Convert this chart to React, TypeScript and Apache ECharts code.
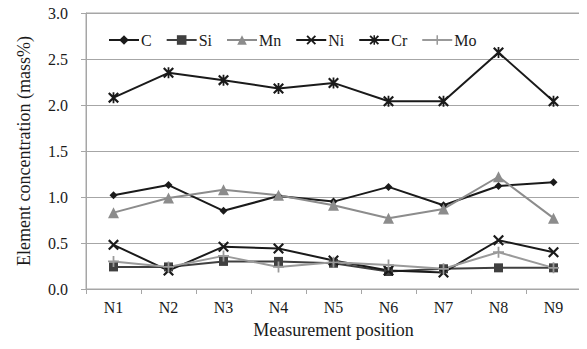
import React, { useEffect, useRef } from "react";
import * as echarts from "echarts";

const categories = ["N1", "N2", "N3", "N4", "N5", "N6", "N7", "N8", "N9"];
const seriesNames = ["C", "Si", "Mn", "Ni", "Cr", "Mo"];
const cValues = [1.02, 1.13, 0.85, 1.01, 0.95, 1.11, 0.91, 1.12, 1.16];
const siValues = [0.24, 0.24, 0.3, 0.3, 0.28, 0.19, 0.22, 0.23, 0.23];
const mnValues = [0.83, 0.99, 1.08, 1.02, 0.91, 0.77, 0.87, 1.22, 0.77];
const niValues = [0.48, 0.2, 0.46, 0.44, 0.31, 0.2, 0.18, 0.53, 0.4];
const crValues = [2.08, 2.35, 2.27, 2.18, 2.24, 2.04, 2.04, 2.57, 2.04];
const moValues = [0.3, 0.24, 0.36, 0.24, 0.29, 0.26, 0.22, 0.4, 0.23];
const yTicks = [0, 0.5, 1.0, 1.5, 2.0, 2.5, 3.0];

const X_PATH =
  "path://M0,1.4L1.4,0L5,3.6L8.6,0L10,1.4L6.4,5L10,8.6L8.6,10L5,6.4L1.4,10L0,8.6L3.6,5Z";
const AST_PATH =
  "path://M0,1.4L1.4,0L5,3.6L8.6,0L10,1.4L6.4,5L10,8.6L8.6,10L5,6.4L1.4,10L0,8.6L3.6,5Z M4.2,0L5.8,0L5.8,10L4.2,10Z";
const PLUS_PATH =
  "path://M4.2,0L5.8,0L5.8,4.2L10,4.2L10,5.8L5.8,5.8L5.8,10L4.2,10L4.2,5.8L0,5.8L0,4.2L4.2,4.2Z";

const FONT = "'Liberation Serif', 'DejaVu Serif', serif";

export default function App() {
  const ref = useRef<HTMLDivElement>(null);
  useEffect(() => {
    if (!ref.current) return;
    const chart = echarts.init(ref.current, undefined, { renderer: "svg" });
    const values = [cValues, siValues, mnValues, niValues, crValues, moValues];
    const colors = ["#1a1a1a", "#404040", "#8c8c8c", "#1a1a1a", "#1a1a1a", "#9a9a9a"];
    const symbols = ["diamond", "rect", "triangle", X_PATH, AST_PATH, PLUS_PATH];
    const sizes = [8, 9, 11, 11, 11, 11];
    chart.setOption({
      animation: false,
      textStyle: { fontFamily: FONT },
      grid: {
        left: 86,
        right: 6,
        top: 13,
        bottom: 60,
        show: true,
        borderColor: "#a6a6a6",
        borderWidth: 1,
      },
      legend: {
        top: 27,
        left: 103,
        itemWidth: 30,
        itemHeight: 12,
        itemGap: 14,
        data: seriesNames,
        textStyle: { fontFamily: FONT, fontSize: 16, color: "#1a1a1a", padding: [0, 0, 0, -3] },
      },
      xAxis: {
        type: "category",
        data: categories,
        boundaryGap: true,
        name: "Measurement position",
        nameLocation: "middle",
        nameGap: 32,
        nameTextStyle: { fontFamily: FONT, fontSize: 18, color: "#1a1a1a" },
        axisLine: { lineStyle: { color: "#a6a6a6", width: 1 } },
        axisTick: { show: true, length: 5, lineStyle: { color: "#a6a6a6" } },
        axisLabel: { fontFamily: FONT, fontSize: 16, color: "#1a1a1a", margin: 10 },
        splitLine: { show: false },
      },
      yAxis: {
        type: "value",
        min: yTicks[0],
        max: yTicks[yTicks.length - 1],
        interval: 0.5,
        name: "Element concentration (mass%)",
        nameLocation: "middle",
        nameGap: 53,
        nameTextStyle: { fontFamily: FONT, fontSize: 18, color: "#1a1a1a" },
        axisLine: { show: true, lineStyle: { color: "#a6a6a6", width: 1 } },
        axisTick: { show: true, length: 5, lineStyle: { color: "#a6a6a6" } },
        axisLabel: {
          fontFamily: FONT,
          fontSize: 16,
          color: "#1a1a1a",
          margin: 18,
          formatter: (v: number) => v.toFixed(1),
        },
        splitLine: { show: true, lineStyle: { color: "#a6a6a6", width: 1 } },
      },
      series: seriesNames.map((name, i) => ({
        name,
        type: "line",
        data: values[i],
        symbol: symbols[i],
        symbolSize: sizes[i],
        showAllSymbol: true,
        itemStyle: { color: colors[i] },
        lineStyle: { color: colors[i], width: 2 },
      })),
    });
    return () => chart.dispose();
  }, []);
  return <div ref={ref} style={{ width: 587, height: 349, margin: -8 }} />;
}
